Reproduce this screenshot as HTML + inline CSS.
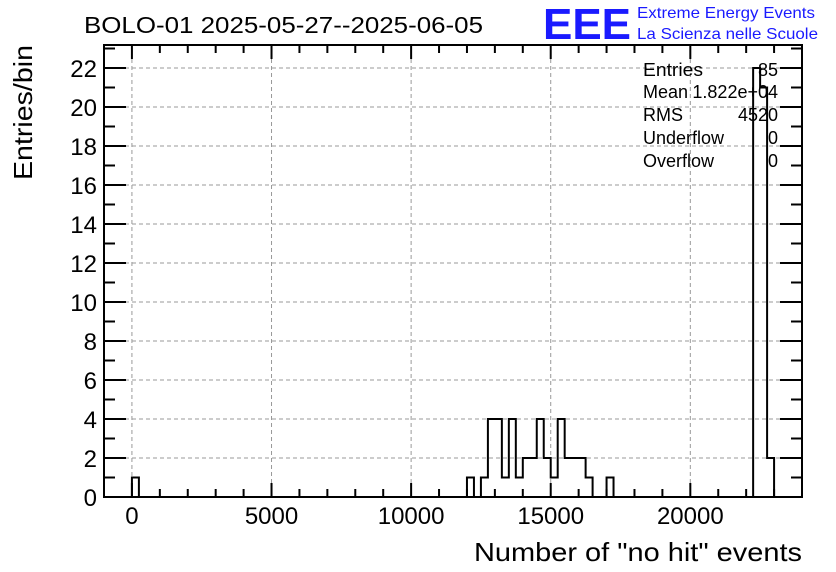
<!DOCTYPE html>
<html><head><meta charset="utf-8"><style>
html,body{margin:0;padding:0;background:#fff;}
svg{display:block;font-family:"Liberation Sans",sans-serif;}
</style></head><body>
<svg id="chart" width="836" height="572" viewBox="0 0 836 572">
<rect x="0" y="0" width="836" height="572" fill="#fff"/>
<text x="84" y="33" font-size="23" fill="#000" textLength="399" lengthAdjust="spacingAndGlyphs">BOLO-01 2025-05-27--2025-06-05</text>
<g>
<text x="543" y="39" font-size="44" font-weight="bold" fill="#1a1aff" textLength="88" lengthAdjust="spacingAndGlyphs">EEE</text>
<text x="637" y="18" font-size="16" fill="#1a1aff" textLength="178" lengthAdjust="spacingAndGlyphs">Extreme Energy Events</text>
<text x="637" y="39" font-size="16" fill="#1a1aff" textLength="181" lengthAdjust="spacingAndGlyphs">La Scienza nelle Scuole</text>
</g>
<g id="grid"></g>
<g id="hist"></g>
<g id="axes"></g>
<g font-size="18" fill="#000">
<text x="643" y="76" textLength="60" lengthAdjust="spacingAndGlyphs">Entries</text><text x="778" y="76" text-anchor="end">85</text>
<text x="643" y="98">Mean</text><text x="778" y="98" text-anchor="end">1.822e+04</text>
<text x="643" y="121">RMS</text><text x="778" y="121" text-anchor="end">4520</text>
<text x="643" y="144">Underflow</text><text x="778" y="144" text-anchor="end">0</text>
<text x="643" y="167">Overflow</text><text x="778" y="167" text-anchor="end">0</text>
</g>
<text x="802" y="561" font-size="26" text-anchor="end" textLength="328" lengthAdjust="spacingAndGlyphs">Number of "no hit" events</text>
<text transform="translate(32,45) rotate(-90)" font-size="26" text-anchor="end" textLength="135" lengthAdjust="spacingAndGlyphs">Entries/bin</text>
</svg>
<script>
const binLow = -1000, binWidth = 250, nBins = 100;
const filledBins = [4, 52, 54, 55, 56, 57, 58, 59, 60, 61, 62, 63, 64, 65, 66, 67, 68, 69, 72, 93, 94, 95];
const binCounts = [1, 1, 1, 4, 4, 1, 4, 1, 2, 2, 4, 2, 1, 4, 2, 2, 2, 1, 1, 22, 21, 2];
const xTicks = [0, 5000, 10000, 15000, 20000];
const yTicks = [0, 2, 4, 6, 8, 10, 12, 14, 16, 18, 20, 22];
const X0 = 104, X1 = 802, Y0 = 497, Y1 = 45;
const xMin = -1000, xMax = 24000, yMin = 0, yMax = 23.18;
const sx = v => X0 + (v - xMin) / (xMax - xMin) * (X1 - X0);
const sy = v => Y0 - (v - yMin) / (yMax - yMin) * (Y0 - Y1);
const NS = "http://www.w3.org/2000/svg";
function mk(tag, attrs, parent){const e=document.createElementNS(NS,tag);for(const k in attrs)e.setAttribute(k,attrs[k]);parent.appendChild(e);return e;}
const grid=document.getElementById('grid'), hist=document.getElementById('hist'), axes=document.getElementById('axes');
xTicks.forEach(t=>{const l=mk('line',{x1:sx(t),x2:sx(t),y1:Y0,y2:Y1,stroke:'#999','stroke-dasharray':'4,3','stroke-width':1},grid);

});
yTicks.forEach(t=>{if(t===0)return;const l=mk('line',{x1:X0,x2:X1,y1:sy(t),y2:sy(t),stroke:'#999','stroke-dasharray':'4,3','stroke-width':1},grid);

});
const counts=new Array(nBins).fill(0);
filledBins.forEach((b,i)=>counts[b]=binCounts[i]);
let d='M'+X0+','+Y0;
for(let i=0;i<nBins;i++){const xl=sx(binLow+i*binWidth),xr=sx(binLow+(i+1)*binWidth);d+=' L'+xl+','+sy(counts[i])+' L'+xr+','+sy(counts[i]);}
d+=' L'+X1+','+Y0;
const hp=mk('path',{d:d,fill:'none',stroke:'#000','stroke-width':2},hist);


const fr=mk('rect',{x:X0,y:Y1,width:X1-X0,height:Y0-Y1,fill:'none',stroke:'#000','stroke-width':2},axes);


for(let v=-1000;v<=24000;v+=1000){const major=v%5000===0;const L=major?14:8;
mk('line',{x1:sx(v),x2:sx(v),y1:Y0,y2:Y0-L,stroke:'#000','stroke-width':2},axes);
mk('line',{x1:sx(v),x2:sx(v),y1:Y1,y2:Y1+L,stroke:'#000','stroke-width':2},axes);}
xTicks.forEach(t=>{const tx=mk('text',{x:sx(t),y:Y0+27,'font-size':24,'text-anchor':'middle'},axes);tx.textContent=t;

});
for(let v=0;v<=23;v+=1){const major=v%2===0;const L=major?22:11;
mk('line',{x1:X0,x2:X0+L,y1:sy(v),y2:sy(v),stroke:'#000','stroke-width':2},axes);
mk('line',{x1:X1,x2:X1-L,y1:sy(v),y2:sy(v),stroke:'#000','stroke-width':2},axes);}
yTicks.forEach(t=>{const tx=mk('text',{x:X0-7,y:sy(t)+9,'font-size':24,'text-anchor':'end'},axes);tx.textContent=t;

});
</script>
</body></html>
